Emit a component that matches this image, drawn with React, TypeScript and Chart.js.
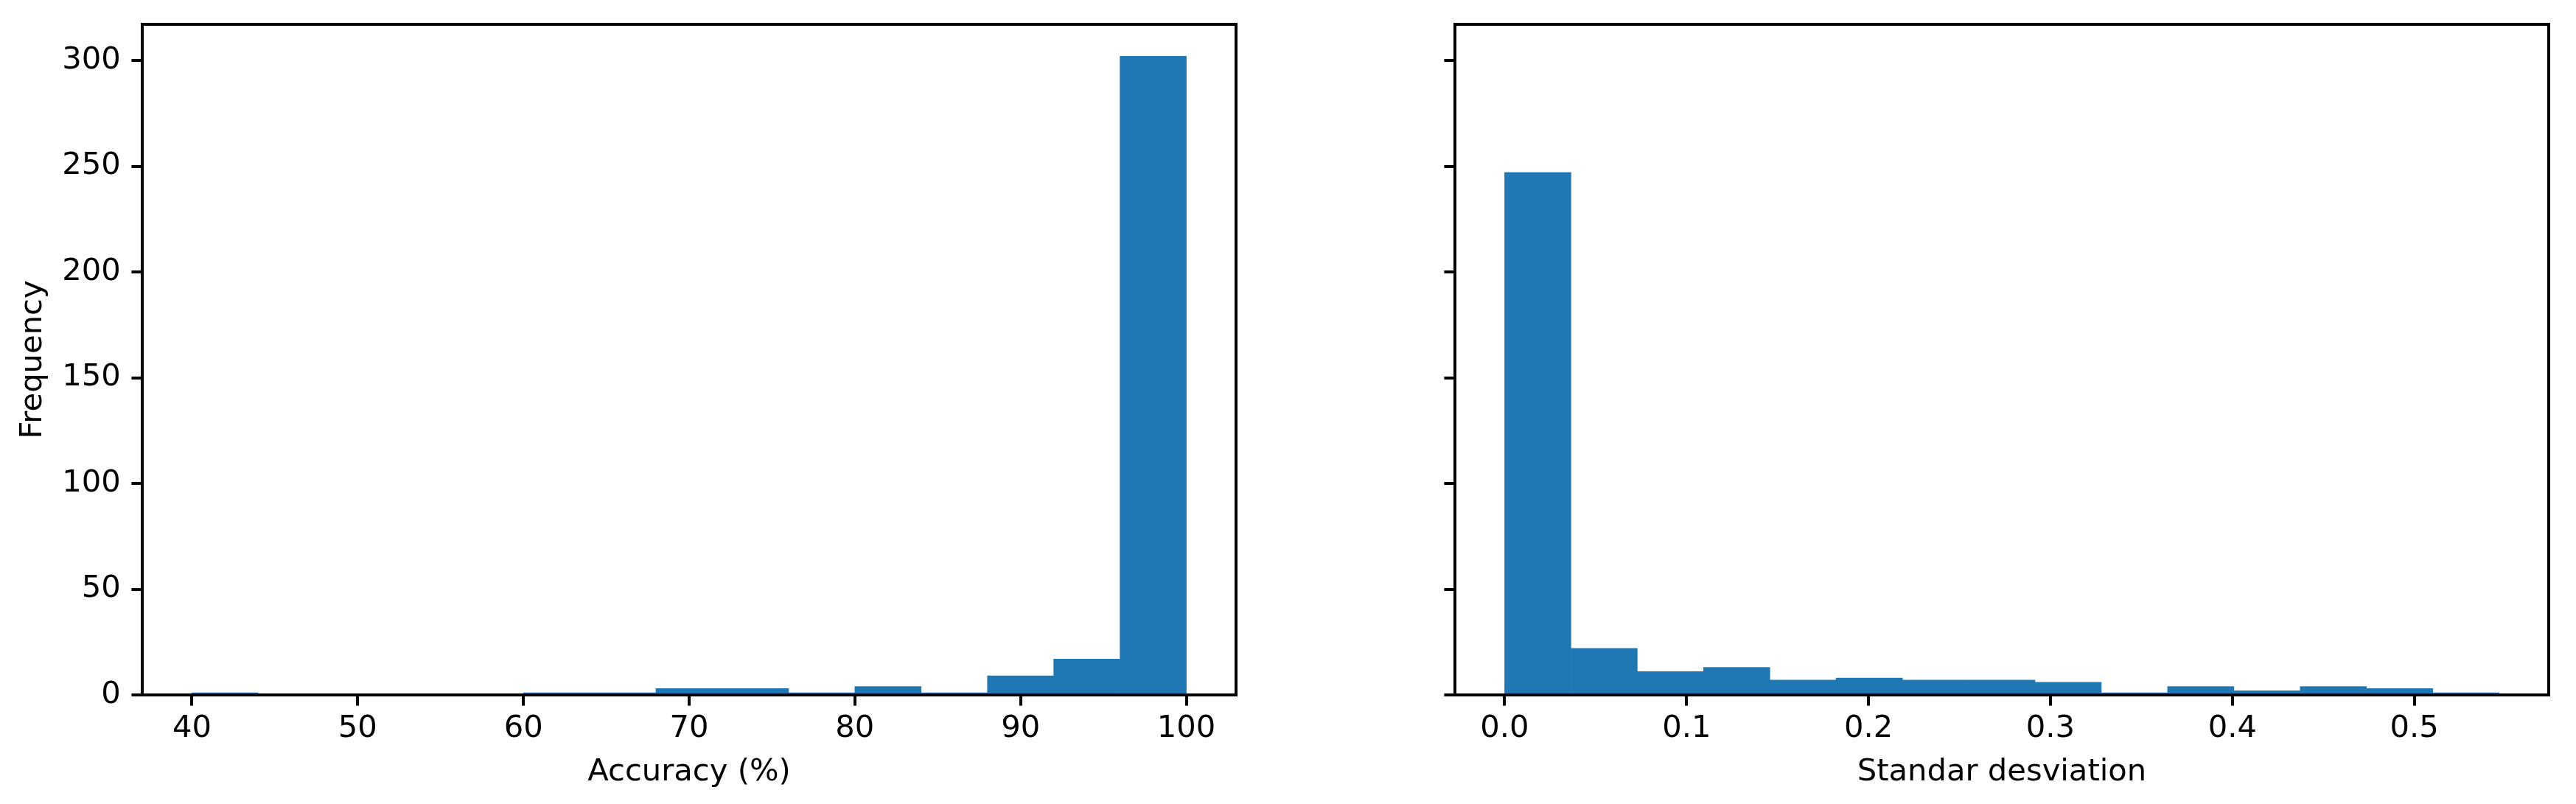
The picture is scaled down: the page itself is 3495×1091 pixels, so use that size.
import React, { useEffect, useRef } from 'react';
import { Chart, registerables } from 'chart.js';

Chart.register(...registerables);

// ---- data ----
const accuracyBinEdges = [40, 44, 48, 52, 56, 60, 64, 68, 72, 76, 80, 84, 88, 92, 96, 100];
const accuracyCounts = [1, 0, 0, 0, 0, 1, 1, 3, 3, 1, 4, 1, 9, 17, 302];
const accuracyTicks = [40, 50, 60, 70, 80, 90, 100];

const stdBinEdges = [0, 0.03644, 0.07288, 0.10932, 0.14576, 0.1822, 0.21864, 0.25508, 0.29152, 0.32796, 0.3644, 0.40084, 0.43728, 0.47372, 0.51016, 0.5466];
const stdCounts = [247, 22, 11, 13, 7, 8, 7, 7, 6, 1, 4, 2, 4, 3, 1];
const stdTicks = [0, 0.1, 0.2, 0.3, 0.4, 0.5];

const frequencyTicks = [0, 50, 100, 150, 200, 250, 300];

const FONT = { family: 'DejaVu Sans', size: 41.67, lineHeight: 1.2 };
const BAR_COLOR = '#1f77b4';
const TICK_LEN = 14.6;
const LINE_W = 4;
const CANVAS_H = 1091;
const PLOT_TOP = 33;
const PLOT_BOTTOM = 943;

const framePlugin = {
  id: 'frame',
  afterDraw(chart: any) {
    const { ctx, chartArea: a } = chart;
    ctx.save();
    ctx.strokeStyle = '#000';
    ctx.lineWidth = LINE_W;
    ctx.lineJoin = 'miter';
    ctx.strokeRect(a.left, a.top, a.right - a.left, a.bottom - a.top);
    ctx.restore();
  },
};

function buildConfig(p: {
  edges: number[];
  counts: number[];
  xTicks: number[];
  xMin: number;
  xMax: number;
  xTitle: string;
  fmt: (v: number) => string;
  showYLabels: boolean;
  yWidth: number;
  padRight: number;
}) {
  const data = p.counts.map((c, i) => ({ x: (p.edges[i] + p.edges[i + 1]) / 2, y: c }));
  const grid = {
    display: true,
    drawOnChartArea: false,
    drawTicks: true,
    tickLength: TICK_LEN,
    lineWidth: LINE_W,
    color: '#000',
    tickColor: '#000',
    offset: false,
  };
  return {
    type: 'bar' as const,
    data: {
      datasets: [
        {
          data,
          backgroundColor: BAR_COLOR,
          borderWidth: 0,
          barPercentage: 1,
          categoryPercentage: 1,
        },
      ],
    },
    options: {
      animation: false,
      responsive: false,
      devicePixelRatio: 1,
      layout: { padding: { left: 0, top: PLOT_TOP, right: p.padRight, bottom: 0 } },
      plugins: { legend: { display: false }, tooltip: { enabled: false }, title: { display: false } },
      scales: {
        x: {
          type: 'linear',
          min: p.xMin,
          max: p.xMax,
          offset: false,
          afterBuildTicks: (s: any) => {
            s.ticks = p.xTicks.map((v) => ({ value: v }));
          },
          afterFit: (s: any) => {
            s.height = CANVAS_H - PLOT_BOTTOM;
            s.paddingLeft = 0;
            s.paddingRight = 0;
            s.paddingTop = 0;
            s.paddingBottom = 0;
          },
          grid,
          border: { display: false },
          ticks: {
            color: '#000',
            font: FONT,
            padding: 7,
            maxRotation: 0,
            autoSkip: false,
            callback: (v: any) => p.fmt(Number(v)),
          },
          title: {
            display: true,
            text: p.xTitle,
            color: '#000',
            font: FONT,
            padding: { top: 0, bottom: 17.5 },
          },
        },
        y: {
          type: 'linear',
          min: 0,
          max: 317.1,
          afterBuildTicks: (s: any) => {
            s.ticks = frequencyTicks.map((v) => ({ value: v }));
          },
          afterFit: (s: any) => {
            s.width = p.yWidth;
            s.paddingLeft = 0;
            s.paddingRight = 0;
            s.paddingTop = 0;
            s.paddingBottom = 0;
          },
          grid,
          border: { display: false },
          ticks: {
            display: p.showYLabels,
            color: '#000',
            font: FONT,
            padding: 14.6,
            autoSkip: false,
            callback: (v: any) => String(v),
          },
          title: {
            display: p.showYLabels,
            text: 'Frequency',
            color: '#000',
            font: FONT,
            padding: { top: 20.5, bottom: 0 },
          },
        },
      },
    },
    plugins: [framePlugin],
  };
}

function ChartCanvas(props: { config: any; left: number; width: number }) {
  const ref = useRef<HTMLCanvasElement | null>(null);
  useEffect(() => {
    if (!ref.current) return;
    const chart = new Chart(ref.current, props.config);
    return () => chart.destroy();
  }, []);
  return (
    <canvas
      ref={ref}
      width={props.width}
      height={CANVAS_H}
      style={{ position: 'absolute', left: props.left, top: 0, width: props.width, height: CANVAS_H }}
    />
  );
}

export default function App() {
  const leftCfg = buildConfig({
    edges: accuracyBinEdges,
    counts: accuracyCounts,
    xTicks: accuracyTicks,
    xMin: 37,
    xMax: 103,
    xTitle: 'Accuracy (%)',
    fmt: (v) => String(Math.round(v)),
    showYLabels: true,
    yWidth: 193,
    padRight: 1825 - 1677,
  });
  const rightCfg = buildConfig({
    edges: stdBinEdges,
    counts: stdCounts,
    xTicks: stdTicks,
    xMin: -0.02733,
    xMax: 0.5739,
    xTitle: 'Standar desviation',
    fmt: (v) => v.toFixed(1),
    showYLabels: false,
    yWidth: 1974 - 1825,
    padRight: 3495 - 3458,
  });
  return (
    <div style={{ position: 'absolute', left: 0, top: 0, width: 3495, height: CANVAS_H, background: '#fff', overflow: 'hidden' }}>
      <ChartCanvas config={leftCfg} left={0} width={1825} />
      <ChartCanvas config={rightCfg} left={1825} width={1670} />
    </div>
  );
}
